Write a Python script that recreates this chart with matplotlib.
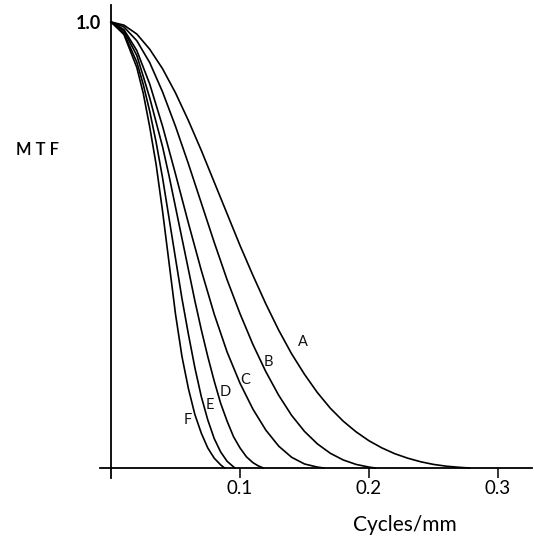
import matplotlib
matplotlib.use("Agg")
import matplotlib.pyplot as plt

plt.rcParams['font.family'] = ['Lato', 'DejaVu Sans']

# spatial frequency (cycles/mm) and MTF
freq_a = [0, 0.01, 0.02, 0.03, 0.04, 0.05, 0.06, 0.07, 0.08, 0.09, 0.10, 0.11, 0.12, 0.13, 0.14,
          0.15, 0.16, 0.17, 0.18, 0.19, 0.20, 0.21, 0.22, 0.23, 0.24, 0.25, 0.26, 0.27, 0.278]
mtf_a = [1.0, 0.993, 0.973, 0.939, 0.895, 0.841, 0.779, 0.712, 0.641, 0.570, 0.499, 0.432, 0.368, 0.309, 0.256,
         0.210, 0.169, 0.134, 0.105, 0.081, 0.061, 0.045, 0.032, 0.022, 0.014, 0.008, 0.004, 0.0015, 0.0]

freq_b = [0, 0.01, 0.02, 0.03, 0.04, 0.05, 0.06, 0.07, 0.08, 0.09, 0.10, 0.11,
          0.12, 0.13, 0.14, 0.15, 0.16, 0.17, 0.18, 0.19, 0.20, 0.205]
mtf_b = [1.0, 0.989, 0.958, 0.909, 0.843, 0.766, 0.682, 0.594, 0.506, 0.422, 0.346, 0.277,
         0.216, 0.163, 0.118, 0.082, 0.054, 0.033, 0.018, 0.008, 0.002, 0.0]

freq_c = [0, 0.01, 0.02, 0.03, 0.04, 0.05, 0.06, 0.07, 0.08, 0.09, 0.10, 0.11, 0.12, 0.13, 0.14, 0.15, 0.16, 0.165]
mtf_c = [1.0, 0.983, 0.936, 0.861, 0.766, 0.659, 0.549, 0.443, 0.345, 0.260, 0.190, 0.132, 0.085, 0.049, 0.024, 0.009, 0.002, 0.0]

freq_d = [0, 0.01, 0.02, 0.025, 0.03, 0.035, 0.04, 0.045, 0.05, 0.055, 0.06, 0.065,
          0.07, 0.075, 0.08, 0.085, 0.09, 0.095, 0.10, 0.105, 0.11, 0.114, 0.118]
mtf_d = [1.0, 0.98, 0.925, 0.878, 0.83, 0.775, 0.72, 0.655, 0.585, 0.515, 0.445, 0.375,
         0.31, 0.25, 0.195, 0.145, 0.105, 0.07, 0.045, 0.025, 0.012, 0.005, 0.0]

freq_e = [0, 0.01, 0.02, 0.025, 0.03, 0.035, 0.04, 0.045, 0.05, 0.055, 0.06,
          0.065, 0.07, 0.075, 0.08, 0.085, 0.09, 0.096]
mtf_e = [1.0, 0.975, 0.91, 0.86, 0.80, 0.73, 0.65, 0.56, 0.47, 0.38, 0.30,
         0.225, 0.16, 0.108, 0.066, 0.036, 0.015, 0.0]

freq_f = [0, 0.01, 0.02, 0.025, 0.03, 0.035, 0.04, 0.045, 0.05, 0.055, 0.06,
          0.065, 0.07, 0.075, 0.08, 0.085, 0.088]
mtf_f = [1.0, 0.972, 0.898, 0.84, 0.765, 0.68, 0.575, 0.46, 0.345, 0.25, 0.178,
         0.12, 0.078, 0.045, 0.022, 0.007, 0.0]

curve_names = ['A', 'B', 'C', 'D', 'E', 'F']
# where each letter sits beside its curve
label_freq = [0.1488, 0.1217, 0.1039, 0.0884, 0.0767, 0.0597]
label_mtf = [0.2825, 0.2377, 0.1973, 0.1704, 0.1413, 0.1076]

x_ticks = [0.1, 0.2, 0.3]
x_tick_labels = ['0.1', '0.2', '0.3']

fig = plt.figure(figsize=(5.34, 5.41), dpi=100)
ax = fig.add_axes([0, 0, 1, 1])
ax.set_xlim(-0.08605, 0.3279)
ax.set_ylim(-0.1637, 1.0493)

curves = [(freq_a, mtf_a), (freq_b, mtf_b), (freq_c, mtf_c),
          (freq_d, mtf_d), (freq_e, mtf_e), (freq_f, mtf_f)]
for fx, fy in curves:
    ax.plot(fx, fy, color='black', lw=1.2, solid_joinstyle='round')

for name, lx, ly in zip(curve_names, label_freq, label_mtf):
    ax.text(lx, ly, name, fontsize=10.5, ha='center', va='center', color='#111111')

# axes cross at the origin
for side in ['top', 'right']:
    ax.spines[side].set_visible(False)
ax.spines['left'].set_position(('data', 0))
ax.spines['bottom'].set_position(('data', 0))
ax.spines['left'].set_bounds(-0.0224, 1.038)
ax.spines['bottom'].set_bounds(-0.0085, 0.326)
ax.spines['left'].set_linewidth(1.3)
ax.spines['bottom'].set_linewidth(1.3)

ax.set_xticks(x_ticks)
ax.set_xticklabels(x_tick_labels)
ax.tick_params(axis='x', direction='out', length=7, width=1.1, pad=2, labelsize=13.5)
ax.set_yticks([1.0])
ax.set_yticklabels(['1.0'])
ax.tick_params(axis='y', length=0, pad=7, labelsize=13)
for t in ax.get_yticklabels():
    t.set_fontweight('bold')

ax.text(0.07, 0.723, 'M T F', transform=ax.transAxes, fontsize=12,
        ha='center', va='center', fontweight='semibold')
ax.text(0.758, 0.03, 'Cycles/mm', transform=ax.transAxes, fontsize=15,
        ha='center', va='center')

fig.savefig('out.png', dpi=100, facecolor='white')
